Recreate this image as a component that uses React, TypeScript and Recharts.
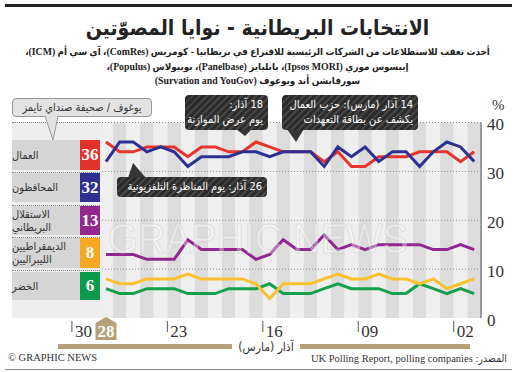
import React from 'react';
import { LineChart, Line, XAxis, YAxis, ReferenceArea, ReferenceLine } from 'recharts';

// March 2015 dates, latest first (chart runs right-to-left)
const days = [28, 27, 26, 25, 24, 23, 22, 21, 20, 19, 18, 17, 16, 15, 14, 13, 12, 11, 10, 9, 8, 7, 6, 5, 4, 3, 2, 1];
const labour = [36, 34, 34, 35, 35, 35, 33, 35, 35, 34, 34, 36, 35, 34, 34, 34, 32, 34, 31, 31, 33, 33, 33, 34, 34, 34, 32, 34];
const conservative = [32, 36, 36, 34, 35, 34, 31, 33, 33, 33, 34, 34, 33, 34, 34, 34, 31, 35, 33, 35, 32, 34, 34, 31, 34, 36, 35, 32];
const ukip = [13, 13, 13, 12, 12, 12, 16, 14, 14, 14, 14, 12, 13, 16, 14, 14, 17, 14, 15, 14, 15, 15, 15, 15, 14, 14, 15, 14];
const libdem = [8, 7, 7, 8, 8, 8, 9, 8, 8, 8, 8, 7, 4, 7, 7, 7, 8, 9, 8, 8, 9, 8, 8, 7, 8, 6, 7, 8];
const greens = [6, 5, 5, 6, 6, 6, 5, 5, 5, 6, 6, 6, 7, 5, 5, 5, 6, 7, 6, 6, 6, 5, 5, 7, 6, 5, 6, 5];

const xTicks = [30, 27.5, 23, 16, 9, 2];
const xTickLabels = ['30', '28', '23', '16', '09', '02'];
const yTicks = [0, 10, 20, 30, 40];

const partyNames = [['العمال'], ['المحافظون'], ['الاستقلال', 'البريطاني'], ['الديمقراطيين', 'الليبراليين'], ['الخضر']];
const partyColors = ['#e2322b', '#2e3192', '#92278f', '#f7a823', '#0b9a4b'];
const lineColors = ['#e5352c', '#2e3192', '#92278f', '#fbc02e', '#14a04c'];
const seriesKeys = ['lab', 'con', 'ukip', 'ld', 'grn'];
const seriesValues = [labour, conservative, ukip, libdem, greens];

const data = days.map((d, i) => ({
  x: d - 0.5,
  lab: labour[i],
  con: conservative[i],
  ukip: ukip[i],
  ld: libdem[i],
  grn: greens[i],
}));

const AR = '"DejaVu Sans Condensed", "DejaVu Sans", sans-serif';
const SERIF = '"Liberation Serif", "DejaVu Sans Condensed", "DejaVu Sans", serif';
const NUM = '"Liberation Serif", serif';
const TAN = '#b5a077';

const XTick = (props: any) => {
  const { x, y, payload } = props;
  const i = xTicks.indexOf(payload.value);
  const label = xTickLabels[i];
  if (payload.value === 27.5) {
    const pts = `${x - 10.5},${y + 5} ${x},${y - 1} ${x + 10.5},${y + 5} ${x + 10.5},${y + 22} ${x - 10.5},${y + 22}`;
    return (
      <g>
        <polygon points={pts} fill={TAN} />
        <text x={x} y={y + 19} textAnchor="middle" fill="#fff" fontWeight="bold" fontSize={17} fontFamily={NUM}>{label}</text>
      </g>
    );
  }
  return (
    <g>
      <line x1={x} x2={x} y1={y + 3} y2={y + 14} stroke="#555" strokeWidth={1} />
      <text x={x + 3} y={y + 19} textAnchor="start" fill="#333" fontSize={17} fontFamily={NUM}>{label}</text>
    </g>
  );
};

const YTick = (props: any) => {
  const { x, y, payload } = props;
  return (
    <text x={x} y={y + 2} dominantBaseline="central" textAnchor="start" fill="#333" fontSize={17} fontFamily={NUM}>{payload.value}</text>
  );
};

const hatch = 'repeating-linear-gradient(135deg, #454545 0px, #454545 2px, #2c2c2c 2px, #2c2c2c 5px)';

const callout = (left: number, top: number, w: number, h: number): React.CSSProperties => ({
  position: 'absolute', left, top, width: w, height: h, borderRadius: 4, background: hatch,
  color: '#fff', direction: 'rtl', textAlign: 'right', fontFamily: AR, fontSize: 11, lineHeight: '15px',
  padding: '2px 5px', boxSizing: 'border-box', whiteSpace: 'nowrap',
});

const rows = [
  { top: 140, h: 30 },
  { top: 173, h: 29 },
  { top: 206, h: 29 },
  { top: 238, h: 30 },
  { top: 272, h: 28 },
];
const separators = [171.5, 204.5, 237, 270];

export default function App() {
  return (
    <div style={{ position: 'absolute', left: 0, top: 0, width: 515, height: 372, background: '#fff', overflow: 'hidden' }}>
      <div style={{ position: 'absolute', left: 0, top: 0 }}>
        <LineChart width={515} height={372} data={data} margin={{ top: 122.5, right: 4, bottom: 24, left: 71.9 }}>
          {days.map((d) => (
            <ReferenceArea key={'s' + d} x1={d - 1} x2={d} y1={0} y2={40} fill={d % 2 === 1 ? '#dcdcdc' : '#efefef'} fillOpacity={1} stroke="none" ifOverflow="visible" />
          ))}
          {[10, 20, 30, 40].map((v) => (
            <ReferenceLine key={'g' + v} y={v} stroke="#8c8c8c" strokeDasharray="1 2" strokeWidth={1} />
          ))}
          <XAxis dataKey="x" type="number" domain={[0, 30]} reversed ticks={xTicks} interval={0} tick={<XTick />} tickSize={0} tickMargin={0} tickLine={false} axisLine={false} height={30} allowDataOverflow />
          <YAxis orientation="right" type="number" domain={[0, 40]} ticks={yTicks} interval={0} tick={<YTick />} tickSize={0} tickMargin={6} tickLine={false} axisLine={{ stroke: '#9a9a9a', strokeWidth: 2 }} width={30} />
          {[4, 3, 2, 0, 1].map((i) => (
            <Line key={seriesKeys[i]} dataKey={seriesKeys[i]} type="linear" stroke={lineColors[i]} strokeWidth={3} dot={false} activeDot={false} isAnimationActive={false} />
          ))}
        </LineChart>
      </div>

      {/* watermark */}
      <svg width={515} height={372} style={{ position: 'absolute', left: 0, top: 0, pointerEvents: 'none' }}>
        <text x={108} y={253} fontSize={42} fontFamily='"Liberation Sans", sans-serif' textLength={300} lengthAdjust="spacingAndGlyphs" fill="#ffffff" fillOpacity={0.35} stroke="#c8c8c8" strokeOpacity={0.45} strokeWidth={1}>GRAPHIC NEWS</text>
      </svg>

      {/* top rule */}
      <div style={{ position: 'absolute', left: 5, top: 4, width: 507, height: 3, background: '#222' }} />

      {/* title */}
      <div style={{ position: 'absolute', left: 0, top: 14, width: 515, textAlign: 'center', direction: 'rtl', fontFamily: AR, fontWeight: 'bold', fontSize: 21, lineHeight: '28px', color: '#222' }}>
        الانتخابات البريطانية - نوايا المصوّتين
      </div>
      {[
        'أحدث تعقب للاستطلاعات من الشركات الرئيسية للاقتراع في بريطانيا - كومريس (ComRes)، آي سي أم (ICM)،',
        'إيبسوس موري (Ipsos MORI)، بانلبايز (Panelbase)، بوبيولاس (Populus)،',
        'سورفايشن أند ويوغوف (Survation and YouGov)',
      ].map((t, i) => (
        <div key={'sub' + i} style={{ position: 'absolute', left: 0, top: 45 + i * 14.5, width: 515, textAlign: 'center', direction: 'rtl', fontFamily: SERIF, fontWeight: 'bold', fontSize: 9.8, lineHeight: '14px', color: '#222', whiteSpace: 'nowrap' }}>
          {t}
        </div>
      ))}

      {/* left label panel */}
      <div style={{ position: 'absolute', left: 12, top: 122, width: 88, height: 196, background: '#eeeeee', borderTop: '1px dotted #888', boxSizing: 'border-box' }} />
      {rows.map((r, i) => (
        <React.Fragment key={'row' + i}>
          <div style={{ position: 'absolute', left: 12, top: r.top, width: 68, height: r.h, background: '#d5d5d5', display: 'flex', flexDirection: 'column', justifyContent: 'center', alignItems: 'flex-end', paddingRight: 5, boxSizing: 'border-box', direction: 'rtl', fontFamily: AR, fontSize: 11, lineHeight: '13px', color: '#333', whiteSpace: 'nowrap' }}>
            {partyNames[i].map((n, j) => (<div key={j}>{n}</div>))}
          </div>
          <div style={{ position: 'absolute', left: 80, top: r.top, width: 20, height: r.h, background: partyColors[i], display: 'flex', alignItems: 'center', justifyContent: 'center', color: '#fff', fontFamily: NUM, fontWeight: 'bold', fontSize: 17 }}>
            {seriesValues[i][0]}
          </div>
        </React.Fragment>
      ))}
      {separators.map((s, i) => (
        <div key={'sep' + i} style={{ position: 'absolute', left: 12, top: s, width: 88, height: 0, borderTop: '1px dotted #888' }} />
      ))}

      {/* callout tails */}
      <svg width={515} height={372} style={{ position: 'absolute', left: 0, top: 0, pointerEvents: 'none' }}>
        <polygon points="236,129 252,129 245,136" fill="#363636" />
        <polygon points="287,129 304,129 296,142" fill="#363636" />
        <polygon points="128,178 146,178 133,163" fill="#363636" />
        <polygon points="45,116 58,116 53,140" fill="#e3e3e3" stroke="#999" strokeWidth={1} />
      </svg>

      {/* YouGov / Sunday Times callout */}
      <div style={{ position: 'absolute', left: 12, top: 98, width: 140, height: 19, borderRadius: 4, background: '#e3e3e3', border: '1px solid #999', boxSizing: 'border-box', direction: 'rtl', textAlign: 'center', fontFamily: AR, fontSize: 11, lineHeight: '17px', color: '#333', whiteSpace: 'nowrap' }}>
        يوغوف / صحيفة صنداي تايمز
      </div>
      <div style={{ position: 'absolute', left: 46, top: 115, width: 11, height: 2, background: '#e3e3e3' }} />

      <div style={callout(185, 95, 83, 35)}>
        <div>18 آذار:</div>
        <div>يوم عرض الموازنة</div>
      </div>
      <div style={callout(282, 95, 136, 35)}>
        <div>14 آذار (مارس): حزب العمال</div>
        <div>يكشف عن بطاقة التعهدات</div>
      </div>
      <div style={{ ...callout(117, 177, 150, 20), lineHeight: '16px' }}>
        <div>26 آذار: يوم المناظرة التلفزيونية</div>
      </div>

      {/* percent sign */}
      <div style={{ position: 'absolute', left: 492, top: 97, fontFamily: NUM, fontSize: 15, color: '#333' }}>%</div>

      {/* month band */}
      <div style={{ position: 'absolute', left: 58, top: 343.5, width: 174, height: 5, background: TAN }} />
      <div style={{ position: 'absolute', left: 300, top: 343.5, width: 170, height: 5, background: TAN }} />
      <div style={{ position: 'absolute', left: 216, top: 340, width: 100, textAlign: 'center', direction: 'rtl', fontFamily: AR, fontSize: 12, lineHeight: '14px', color: '#333' }}>آذار (مارس)</div>

      {/* footer */}
      <div style={{ position: 'absolute', left: 8, top: 352, fontFamily: NUM, fontSize: 10.5, color: '#333', whiteSpace: 'nowrap' }}>© GRAPHIC NEWS</div>
      <div style={{ position: 'absolute', right: 8, top: 352, direction: 'rtl', fontFamily: SERIF, fontSize: 10.5, color: '#333', whiteSpace: 'nowrap' }}>المصدر: UK Polling Report, polling companies</div>
      <div style={{ position: 'absolute', left: 5, top: 369, width: 507, height: 1, background: '#888' }} />
    </div>
  );
}
